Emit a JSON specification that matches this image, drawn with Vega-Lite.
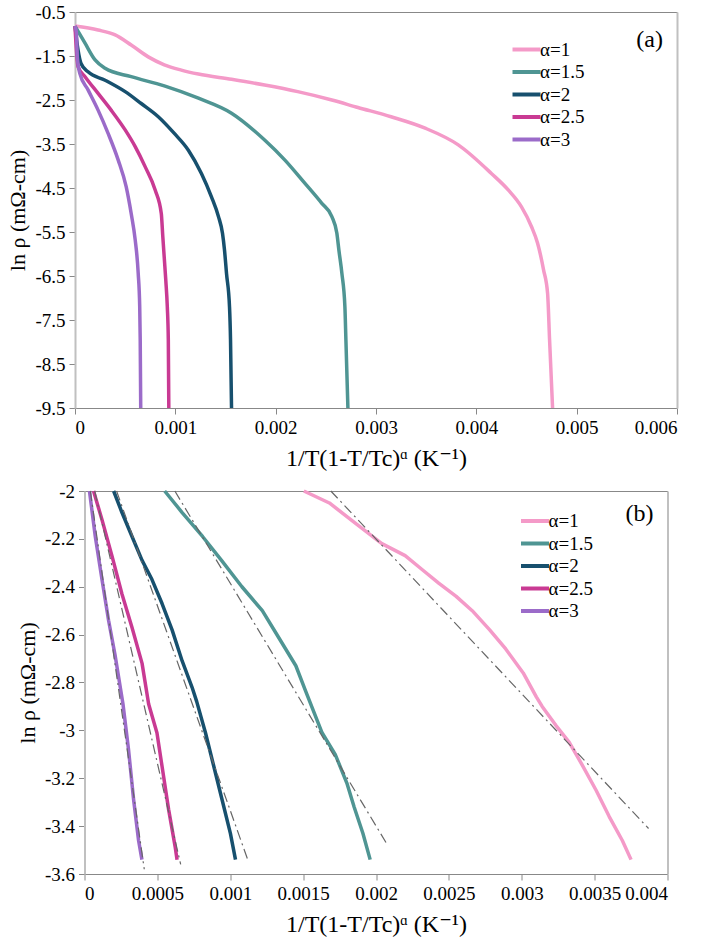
{
"$schema": "https://vega.github.io/schema/vega-lite/v6.json",
"background": "white",
"padding": {"left": 6, "top": 3, "right": 5, "bottom": 3},
"config": {
  "font": "Liberation Serif, Times New Roman, Times, DejaVu Serif, Noto Serif, serif",
  "locale": {"number": {"decimal": ".", "thousands": ",", "grouping": [3], "currency": ["$", ""], "minus": "-"}},
  "view": {"stroke": null},
  "axis": {"grid": false, "labelFont": "Liberation Serif, Times New Roman, Times, DejaVu Serif, Noto Serif, serif", "labelFontSize": 19, "labelColor": "#000", "titleFont": "Liberation Serif, Times New Roman, Times, DejaVu Serif, Noto Serif, serif", "titleFontSize": 24, "titleFontWeight": "normal", "titleColor": "#000", "tickColor": "#888", "tickSize": 6, "labelPadding": 4, "domainColor": "#888", "domainWidth": 1},
  "axisY": {"titleFontSize": 22},
  "legend": {"title": null, "symbolType": "M-2,0H2", "symbolSize": 196, "symbolStrokeWidth": 4, "labelFont": "Liberation Serif, Times New Roman, Times, DejaVu Serif, Noto Serif, serif", "labelFontSize": 19, "labelColor": "#000", "labelOffset": 4, "rowPadding": 2.5, "padding": 0},
  "title": {"font": "Liberation Serif, Times New Roman, Times, DejaVu Serif, Noto Serif, serif", "fontSize": 24, "fontWeight": "normal", "color": "#000"}
},
"datasets": {
  "a": [
    {"series":"α=1","x":0,"y":-0.82},{"series":"α=1","x":0.00023,"y":-0.91},{"series":"α=1","x":0.0004,"y":-1.02},{"series":"α=1","x":0.00056,"y":-1.25},{"series":"α=1","x":0.00073,"y":-1.52},{"series":"α=1","x":0.00089,"y":-1.7},{"series":"α=1","x":0.00106,"y":-1.82},{"series":"α=1","x":0.00123,"y":-1.91},{"series":"α=1","x":0.00156,"y":-2.03},{"series":"α=1","x":0.00189,"y":-2.16},{"series":"α=1","x":0.00222,"y":-2.31},{"series":"α=1","x":0.00256,"y":-2.5},{"series":"α=1","x":0.00282,"y":-2.67},{"series":"α=1","x":0.00315,"y":-2.88},{"series":"α=1","x":0.00349,"y":-3.14},{"series":"α=1","x":0.00382,"y":-3.52},{"series":"α=1","x":0.00415,"y":-4.17},{"series":"α=1","x":0.00432,"y":-4.55},{"series":"α=1","x":0.00445,"y":-4.93},{"series":"α=1","x":0.00455,"y":-5.38},{"series":"α=1","x":0.00461,"y":-5.75},{"series":"α=1","x":0.00467,"y":-6.36},{"series":"α=1","x":0.00471,"y":-6.89},{"series":"α=1","x":0.00473,"y":-7.95},{"series":"α=1","x":0.00476,"y":-9.5},
    {"series":"α=1.5","x":0,"y":-0.82},{"series":"α=1.5","x":0.0001,"y":-1.21},{"series":"α=1.5","x":0.0002,"y":-1.59},{"series":"α=1.5","x":0.0003,"y":-1.78},{"series":"α=1.5","x":0.00056,"y":-1.97},{"series":"α=1.5","x":0.00089,"y":-2.18},{"series":"α=1.5","x":0.00123,"y":-2.46},{"series":"α=1.5","x":0.00156,"y":-2.8},{"series":"α=1.5","x":0.00189,"y":-3.41},{"series":"α=1.5","x":0.00209,"y":-3.86},{"series":"α=1.5","x":0.00229,"y":-4.39},{"series":"α=1.5","x":0.00246,"y":-4.85},{"series":"α=1.5","x":0.00256,"y":-5.15},{"series":"α=1.5","x":0.00261,"y":-5.53},{"series":"α=1.5","x":0.00263,"y":-5.91},{"series":"α=1.5","x":0.00266,"y":-6.44},{"series":"α=1.5","x":0.00269,"y":-7.2},{"series":"α=1.5","x":0.0027,"y":-7.95},{"series":"α=1.5","x":0.00272,"y":-9.5},
    {"series":"α=2","x":0,"y":-0.82},{"series":"α=2","x":0.00003,"y":-1.36},{"series":"α=2","x":0.00006,"y":-1.67},{"series":"α=2","x":0.00013,"y":-1.86},{"series":"α=2","x":0.0003,"y":-2.05},{"series":"α=2","x":0.0005,"y":-2.31},{"series":"α=2","x":0.00066,"y":-2.58},{"series":"α=2","x":0.00083,"y":-2.88},{"series":"α=2","x":0.00099,"y":-3.26},{"series":"α=2","x":0.00113,"y":-3.64},{"series":"α=2","x":0.00126,"y":-4.17},{"series":"α=2","x":0.00136,"y":-4.7},{"series":"α=2","x":0.00143,"y":-5.15},{"series":"α=2","x":0.00147,"y":-5.53},{"series":"α=2","x":0.00149,"y":-5.91},{"series":"α=2","x":0.00151,"y":-6.44},{"series":"α=2","x":0.00154,"y":-7.2},{"series":"α=2","x":0.00155,"y":-7.95},{"series":"α=2","x":0.00156,"y":-9.5},
    {"series":"α=2.5","x":0,"y":-0.82},{"series":"α=2.5","x":0.00003,"y":-1.74},{"series":"α=2.5","x":0.0001,"y":-1.97},{"series":"α=2.5","x":0.00023,"y":-2.35},{"series":"α=2.5","x":0.00036,"y":-2.73},{"series":"α=2.5","x":0.0005,"y":-3.18},{"series":"α=2.5","x":0.0006,"y":-3.56},{"series":"α=2.5","x":0.0007,"y":-4.02},{"series":"α=2.5","x":0.0008,"y":-4.55},{"series":"α=2.5","x":0.00086,"y":-5.08},{"series":"α=2.5","x":0.000875,"y":-5.6},{"series":"α=2.5","x":0.00089,"y":-6.1},{"series":"α=2.5","x":0.000905,"y":-6.6},{"series":"α=2.5","x":0.00092,"y":-7.2},{"series":"α=2.5","x":0.00093,"y":-7.95},{"series":"α=2.5","x":0.000935,"y":-9.5},
    {"series":"α=3","x":0,"y":-0.82},{"series":"α=3","x":0.000013,"y":-0.95},{"series":"α=3","x":0.000023,"y":-1.52},{"series":"α=3","x":0.000047,"y":-1.89},{"series":"α=3","x":0.00013,"y":-2.27},{"series":"α=3","x":0.00023,"y":-2.73},{"series":"α=3","x":0.00033,"y":-3.26},{"series":"α=3","x":0.00043,"y":-3.86},{"series":"α=3","x":0.00051,"y":-4.47},{"series":"α=3","x":0.00056,"y":-5.08},{"series":"α=3","x":0.0006,"y":-5.68},{"series":"α=3","x":0.00063,"y":-6.44},{"series":"α=3","x":0.000645,"y":-7.2},{"series":"α=3","x":0.00065,"y":-7.95},{"series":"α=3","x":0.000655,"y":-9.5}
  ],
  "b": [
    {"series":"α=1","x":0.001505,"y":-2.0},{"series":"α=1","x":0.00168,"y":-2.05},{"series":"α=1","x":0.00186,"y":-2.135},{"series":"α=1","x":0.00204,"y":-2.22},{"series":"α=1","x":0.0022,"y":-2.27},{"series":"α=1","x":0.00232,"y":-2.33},{"series":"α=1","x":0.00243,"y":-2.385},{"series":"α=1","x":0.00255,"y":-2.44},{"series":"α=1","x":0.00266,"y":-2.5},{"series":"α=1","x":0.00278,"y":-2.58},{"series":"α=1","x":0.00289,"y":-2.66},{"series":"α=1","x":0.00301,"y":-2.76},{"series":"α=1","x":0.0031,"y":-2.86},{"series":"α=1","x":0.00314,"y":-2.9},{"series":"α=1","x":0.003235,"y":-2.98},{"series":"α=1","x":0.003326,"y":-3.05},{"series":"α=1","x":0.00342,"y":-3.15},{"series":"α=1","x":0.00351,"y":-3.25},{"series":"α=1","x":0.0036,"y":-3.36},{"series":"α=1","x":0.00369,"y":-3.46},{"series":"α=1","x":0.00375,"y":-3.54},
    {"series":"α=1.5","x":0.00055,"y":-2.0},{"series":"α=1.5","x":0.00067,"y":-2.09},{"series":"α=1.5","x":0.00081,"y":-2.19},{"series":"α=1.5","x":0.00094,"y":-2.29},{"series":"α=1.5","x":0.00108,"y":-2.4},{"series":"α=1.5","x":0.00122,"y":-2.5},{"series":"α=1.5","x":0.00133,"y":-2.61},{"series":"α=1.5","x":0.00145,"y":-2.73},{"series":"α=1.5","x":0.00152,"y":-2.84},{"series":"α=1.5","x":0.00163,"y":-3.01},{"series":"α=1.5","x":0.00172,"y":-3.1},{"series":"α=1.5","x":0.0018,"y":-3.22},{"series":"α=1.5","x":0.00185,"y":-3.32},{"series":"α=1.5","x":0.00191,"y":-3.43},{"series":"α=1.5","x":0.00196,"y":-3.54},
    {"series":"α=2","x":0.0002,"y":-2.0},{"series":"α=2","x":0.000257,"y":-2.09},{"series":"α=2","x":0.000326,"y":-2.19},{"series":"α=2","x":0.000395,"y":-2.29},{"series":"α=2","x":0.000463,"y":-2.37},{"series":"α=2","x":0.000532,"y":-2.47},{"series":"α=2","x":0.000601,"y":-2.58},{"series":"α=2","x":0.00067,"y":-2.71},{"series":"α=2","x":0.000738,"y":-2.82},{"series":"α=2","x":0.00077,"y":-2.88},{"series":"α=2","x":0.00083,"y":-3.01},{"series":"α=2","x":0.000887,"y":-3.15},{"series":"α=2","x":0.000944,"y":-3.29},{"series":"α=2","x":0.001001,"y":-3.43},{"series":"α=2","x":0.001036,"y":-3.54},
    {"series":"α=2.5","x":0.000062,"y":-2.0},{"series":"α=2.5","x":0.00012,"y":-2.12},{"series":"α=2.5","x":0.000188,"y":-2.27},{"series":"α=2.5","x":0.000257,"y":-2.43},{"series":"α=2.5","x":0.000326,"y":-2.57},{"series":"α=2.5","x":0.000395,"y":-2.72},{"series":"α=2.5","x":0.00044,"y":-2.89},{"series":"α=2.5","x":0.000497,"y":-3.01},{"series":"α=2.5","x":0.000532,"y":-3.15},{"series":"α=2.5","x":0.000577,"y":-3.33},{"series":"α=2.5","x":0.000623,"y":-3.49},{"series":"α=2.5","x":0.000635,"y":-3.54},
    {"series":"α=3","x":0.000034,"y":-2.0},{"series":"α=3","x":0.000074,"y":-2.19},{"series":"α=3","x":0.00012,"y":-2.37},{"series":"α=3","x":0.000165,"y":-2.54},{"series":"α=3","x":0.000211,"y":-2.69},{"series":"α=3","x":0.000264,"y":-2.89},{"series":"α=3","x":0.000302,"y":-3.08},{"series":"α=3","x":0.000337,"y":-3.29},{"series":"α=3","x":0.000371,"y":-3.46},{"series":"α=3","x":0.000394,"y":-3.54}
  ],
  "fit": [
    {"series":"α=1","x":0.00169,"y":-2.0},{"series":"α=1","x":0.00387,"y":-3.41},
    {"series":"α=1.5","x":0.00062,"y":-2.0},{"series":"α=1.5","x":0.00208,"y":-3.48},
    {"series":"α=2","x":0.00022,"y":-2.0},{"series":"α=2","x":0.00112,"y":-3.54},
    {"series":"α=2.5","x":0.00007,"y":-2.0},{"series":"α=2.5","x":0.00066,"y":-3.56},
    {"series":"α=3","x":0.00004,"y":-2.0},{"series":"α=3","x":0.00041,"y":-3.58}
  ]
},
"spacing": 83,
"bounds": "flush",
"center": true,
"resolve": {"scale": {"color": "independent"}, "legend": {"color": "independent"}},
"vconcat": [
  {
    "width": 602, "height": 396,
    "title": {"text": "(a)", "anchor": "end", "frame": "group", "orient": "top", "offset": -33, "baseline": "alphabetic", "dx": -14, "dy": 35},
    "layer": [
      {
        "data": {"name": "a"},
        "mark": {"type": "line", "strokeWidth": 3.5, "strokeJoin": "round", "interpolate": "monotone"},
        "encoding": {
          "x": {"field": "x", "type": "quantitative", "scale": {"domain": [0, 0.006], "nice": false},
                "axis": {"values": [0, 0.001, 0.002, 0.003, 0.004, 0.005, 0.006], "format": ".2~g", "title": "1/T(1-T/Tc)ᵅ (K⁻¹)", "titlePadding": 9}},
          "y": {"field": "y", "type": "quantitative", "scale": {"domain": [-9.5, -0.5], "nice": false, "zero": false},
                "axis": {"values": [-0.5, -1.5, -2.5, -3.5, -4.5, -5.5, -6.5, -7.5, -8.5, -9.5], "format": ".2~g", "title": "ln ρ (mΩ-cm)", "titlePadding": 5, "domainColor": "#c0c0c0", "domainWidth": 2}},
          "color": {"field": "series", "type": "nominal",
                    "scale": {"domain": ["α=1", "α=1.5", "α=2", "α=2.5", "α=3"], "range": ["#f49ac8", "#4f9593", "#17506e", "#c93a93", "#9b6bc9"]},
                    "legend": {"orient": "none", "legendX": 442, "legendY": 28}}
        }
      },
      {
        "data": {"name": "a"},
        "mark": {"type": "point", "opacity": 0},
        "encoding": {
          "x": {"field": "x", "type": "quantitative", "axis": {"orient": "top", "labels": false, "ticks": false, "title": null, "domainColor": "#888"}},
          "y": {"field": "y", "type": "quantitative", "axis": {"orient": "right", "labels": false, "ticks": false, "title": null, "domainColor": "#c0c0c0", "domainWidth": 2}}
        }
      }
    ],
    "resolve": {"axis": {"x": "independent", "y": "independent"}}
  },
  {
    "width": 583, "height": 383,
    "title": {"text": "(b)", "anchor": "end", "frame": "group", "orient": "top", "offset": -33, "baseline": "alphabetic", "dx": -14, "dy": 30},
    "layer": [
      {
        "data": {"name": "b"},
        "mark": {"type": "line", "strokeWidth": 3.5, "strokeJoin": "round"},
        "encoding": {
          "x": {"field": "x", "type": "quantitative", "scale": {"domain": [0, 0.004], "nice": false},
                "axis": {"values": [0, 0.0005, 0.001, 0.0015, 0.002, 0.0025, 0.003, 0.0035, 0.004], "format": ".2~g", "title": "1/T(1-T/Tc)ᵅ (K⁻¹)", "titlePadding": 9}},
          "y": {"field": "y", "type": "quantitative", "scale": {"domain": [-3.6, -2], "nice": false, "zero": false},
                "axis": {"values": [-2, -2.2, -2.4, -2.6, -2.8, -3, -3.2, -3.4, -3.6], "format": ".2~g", "title": "ln ρ (mΩ-cm)", "titlePadding": 5, "domainColor": "#c0c0c0", "domainWidth": 2}},
          "color": {"field": "series", "type": "nominal",
                    "scale": {"domain": ["α=1", "α=1.5", "α=2", "α=2.5", "α=3"], "range": ["#f49ac8", "#4f9593", "#17506e", "#c93a93", "#9b6bc9"]},
                    "legend": {"orient": "none", "legendX": 441, "legendY": 20.5}}
        }
      },
      {
        "data": {"name": "fit"},
        "mark": {"type": "line", "strokeWidth": 1.2, "color": "#666", "strokeDash": [10, 4, 2, 4]},
        "encoding": {
          "x": {"field": "x", "type": "quantitative", "axis": null},
          "y": {"field": "y", "type": "quantitative", "axis": null},
          "detail": {"field": "series", "type": "nominal"}
        }
      },
      {
        "data": {"name": "b"},
        "mark": {"type": "point", "opacity": 0},
        "encoding": {
          "x": {"field": "x", "type": "quantitative", "axis": {"orient": "top", "labels": false, "ticks": false, "title": null, "domainColor": "#888"}},
          "y": {"field": "y", "type": "quantitative", "axis": {"orient": "right", "labels": false, "ticks": false, "title": null, "domainColor": "#c0c0c0", "domainWidth": 2}}
        }
      }
    ],
    "resolve": {"axis": {"x": "independent", "y": "independent"}}
  }
]
}
